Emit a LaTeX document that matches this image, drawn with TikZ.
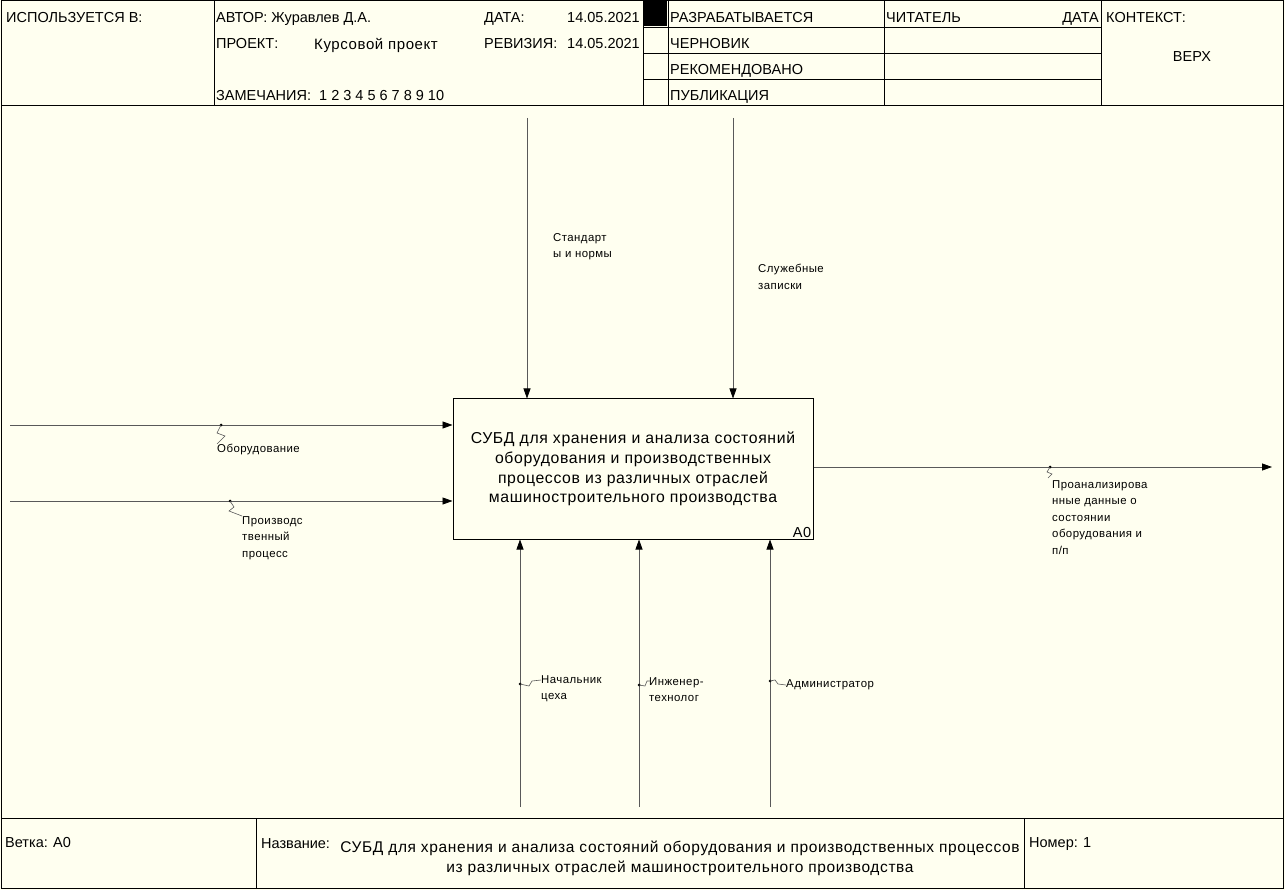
\documentclass[tikz,border=0pt]{standalone}
\usepackage{fontspec}
\setmainfont{Liberation Sans}
\newfontfamily\idffont[LetterSpace=4]{Liberation Sans}
\usepackage{tikz}
\usetikzlibrary{calc,positioning}
\usetikzlibrary{arrows.meta}
\tikzset{>={Triangle[width=7pt,length=10pt,color=black]}}
\definecolor{paper}{RGB}{255,255,240}

\begin{document}
\begin{tikzpicture}[x=1pt,y=-1pt]
      \tikzstyle{hdr} = [anchor=base west, inner sep=0pt, font=\fontsize{14.5}{14}\selectfont]
      \tikzstyle{lbl} = [anchor=north west, inner sep=0pt, align=left, font=\idffont\fontsize{11.4}{16.5}\selectfont]
      \tikzstyle{arc} = [draw=black!65, line width=0.8pt]
      \tikzstyle{squig} = [draw=black!65, line width=0.6pt]
      \tikzstyle{dot} = [circle, fill=black, inner sep=0pt, minimum size=3pt]
      \tikzstyle{func} = [draw, line width=1pt, minimum width=360pt, minimum height=140pt,
                          inner sep=0pt, align=center, font=\idffont\fontsize{15.8}{19.7}\selectfont]

      \useasboundingbox (0,0) rectangle (1285,890);
      \fill[paper] (0,0) rectangle (1285,890);

      % form frame
      \draw[line width=1pt] (1,0.5) rectangle (1283,888.5);
      \draw (1,105) -- (1283,105);
      \draw (1,818) -- (1283,818);
      \foreach \x in {214,643,668,884,1101} \draw (\x,0.5) -- (\x,105);
      \foreach \y in {27,53,79} \draw (643,\y) -- (1101,\y);
      \fill (643,0.5) rectangle (667,26);
      \foreach \x in {256,1024} \draw (\x,818) -- (\x,888.5);

      % header texts
      \node[hdr] (used) at (6,23) {ИСПОЛЬЗУЕТСЯ В:};
      \node[hdr] (author) at (216,23) {АВТОР: Журавлев Д.А.};
      \node[hdr] (date) at (484,23) {ДАТА:};
      \node[hdr, anchor=base east] (dateval) at (640,23) {14.05.2021};
      \node[hdr] (project) at (216,49) {ПРОЕКТ:};
      \node[hdr, font=\idffont\fontsize{15}{14}\selectfont] (projval) at (314,50) {Курсовой проект};
      \node[hdr] (rev) at (484,49) {РЕВИЗИЯ:};
      \node[hdr, anchor=base east] (revval) at (640,49) {14.05.2021};
      \node[hdr] (notes) at (216,101) {ЗАМЕЧАНИЯ:\ \ 1 2 3 4 5 6 7 8 9 10};
      \node[hdr] (st1) at (670,23) {РАЗРАБАТЫВАЕТСЯ};
      \node[hdr] (st2) at (670,49) {ЧЕРНОВИК};
      \node[hdr] (st3) at (670,75) {РЕКОМЕНДОВАНО};
      \node[hdr] (st4) at (670,101) {ПУБЛИКАЦИЯ};
      \node[hdr] (reader) at (886,23) {ЧИТАТЕЛЬ};
      \node[hdr, anchor=base east] (rdate) at (1099,23) {ДАТА};
      \node[hdr] (context) at (1106,23) {КОНТЕКСТ:};
      \node[hdr, anchor=base] (top) at (1192,62) {ВЕРХ};

      % function block
      \node[func] (a0) at (633,469) {СУБД для хранения и анализа состояний\\
            оборудования и производственных\\ процессов из различных отраслей\\
            машиностроительного производства};
      \node[anchor=south east, inner sep=2pt, font=\idffont\fontsize{14.5}{14}\selectfont] (a0num) at (a0.south east) {A0};

      % inputs
      \coordinate (in1) at (10,425);
      \coordinate (in2) at (10,501);
      \draw[arc,->] (in1) -- (in1 -| a0.west);
      \draw[arc,->] (in2) -- (in2 -| a0.west);
      \node[dot] (d1) at (221,425) {};
      \node[dot] (d2) at (230,501) {};
      \node[lbl] (lin1) at (217,444) {Оборудование};
      \node[lbl] (lin2) at (242,516) {Производс\\твенный\\процесс};
      \draw[squig] (d1.center) -- (217,433) -- (225,436) -- (lin1.north west);
      \draw[squig] (d2.center) -- (234,507) -- (229,511) -- (lin2.north west);

      % controls
      \coordinate (ct1) at (527,118);
      \coordinate (ct2) at (733,118);
      \draw[arc,->] (ct1) -- (ct1 |- a0.north);
      \draw[arc,->] (ct2) -- (ct2 |- a0.north);
      \node[lbl] (lct1) at (553,233) {Стандарт\\ы и нормы};
      \node[lbl] (lct2) at (758,264) {Служебные\\записки};

      % output
      \coordinate (out1) at (1272,467);
      \draw[arc,->] (out1 -| a0.east) -- (out1);
      \node[dot] (d3) at (1050,467) {};
      \node[lbl] (lout1) at (1052,480) {Проанализирова\\нные данные о\\состоянии\\оборудования и\\п/п};
      \draw[squig] (d3.center) -- (1047,472) -- (1052,474) -- (1048,478);

      % mechanisms
      \coordinate (mc1) at (520,807);
      \coordinate (mc2) at (639,807);
      \coordinate (mc3) at (770,807);
      \draw[arc,->] (mc1) -- (mc1 |- a0.south);
      \draw[arc,->] (mc2) -- (mc2 |- a0.south);
      \draw[arc,->] (mc3) -- (mc3 |- a0.south);
      \node[dot] (d4) at (520,684) {};
      \node[dot] (d5) at (639,685) {};
      \node[dot] (d6) at (770,681) {};
      \node[lbl] (lmc1) at (541,675) {Начальник\\цеха};
      \node[lbl] (lmc2) at (649,677) {Инженер-\\технолог};
      \node[lbl] (lmc3) at (786,679) {Администратор};
      \draw[squig] (d4.center) -- (529,686) -- (532,681) -- (541,680);
      \draw[squig] (d5.center) -- (645,686) -- (647,681) -- (650,681);
      \draw[squig] (d6.center) -- (775,680) -- (778,684) -- (786,685);

      % footer
      \node[hdr] (branch) at (5,847) {Ветка: A0};
      \node[hdr] (name) at (261,848) {Название:};
      \node[anchor=base, inner sep=0pt, align=center, font=\idffont\fontsize{15.5}{20}\selectfont] (title) at (680,872)
            {СУБД для хранения и анализа состояний оборудования и производственных процессов\\
             из различных отраслей машиностроительного производства};
      \node[hdr] (number) at (1029,847) {Номер: 1};
\end{tikzpicture}
\end{document}
